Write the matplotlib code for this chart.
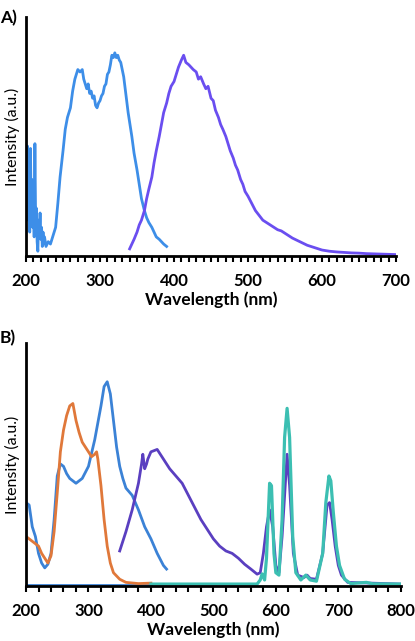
import numpy as np
import matplotlib
matplotlib.use("Agg")
import matplotlib.pyplot as plt
from matplotlib.ticker import MultipleLocator

plt.rcParams["font.family"] = ["Lato", "DejaVu Sans"]

# ---- panel A: excitation (blue) and emission (purple) ----
a_blue_nm = [200, 201, 202, 203, 204, 205, 206, 207, 208, 209, 210, 211, 212, 213, 214, 215,
             216, 217, 218, 219, 220, 221, 222, 223, 224, 225, 227, 230, 233, 236, 240, 243,
             246, 250, 253, 256, 260, 263, 266, 270, 273, 276, 278, 280, 282, 284, 286, 288,
             290, 292, 294, 296, 298, 300, 302, 304, 306, 308, 310, 312, 314, 316, 318, 320,
             322, 324, 326, 328, 330, 332, 334, 336, 338, 340, 343, 346, 350, 353, 356, 360,
             363, 366, 370, 373, 376, 380, 383, 386, 390]
a_blue_int = [0.40, 0.22, 0.46, 0.15, 0.38, 0.10, 0.45, 0.18, 0.32, 0.12, 0.25, 0.08, 0.47, 0.14,
              0.20, 0.06, 0.02, 0.15, 0.09, 0.18, 0.07, 0.12, 0.04, 0.10, 0.05, 0.08, 0.04, 0.06,
              0.05, 0.08, 0.12, 0.22, 0.33, 0.44, 0.53, 0.58, 0.62, 0.69, 0.74, 0.78, 0.77, 0.78,
              0.74, 0.72, 0.70, 0.72, 0.68, 0.69, 0.66, 0.67, 0.63, 0.62, 0.64, 0.65, 0.67, 0.68,
              0.71, 0.72, 0.76, 0.77, 0.80, 0.84, 0.83, 0.85, 0.83, 0.84, 0.82, 0.81, 0.78, 0.75,
              0.70, 0.65, 0.60, 0.56, 0.50, 0.43, 0.36, 0.30, 0.24, 0.19, 0.16, 0.14, 0.12, 0.10,
              0.08, 0.07, 0.06, 0.05, 0.04]

a_purple_nm = [340, 343, 346, 350, 353, 356, 360, 363, 366, 370, 373, 376, 380, 383, 386, 390,
               393, 396, 400, 403, 406, 410, 413, 416, 420, 423, 426, 430, 433, 436, 440, 443,
               446, 450, 453, 456, 460, 463, 466, 470, 473, 476, 480, 483, 486, 490, 493, 496,
               500, 505, 510, 515, 520, 525, 530, 535, 540, 545, 550, 560, 570, 580, 590, 600,
               610, 620, 630, 640, 650, 660, 670, 680, 690, 700]
a_purple_int = [0.03, 0.05, 0.07, 0.10, 0.13, 0.15, 0.19, 0.24, 0.28, 0.33, 0.39, 0.44, 0.50,
                0.55, 0.60, 0.64, 0.68, 0.71, 0.73, 0.76, 0.79, 0.82, 0.84, 0.81, 0.80, 0.79,
                0.78, 0.77, 0.74, 0.75, 0.72, 0.70, 0.71, 0.66, 0.65, 0.61, 0.58, 0.55, 0.53,
                0.50, 0.47, 0.44, 0.41, 0.38, 0.36, 0.32, 0.30, 0.27, 0.25, 0.22, 0.19, 0.17,
                0.15, 0.14, 0.13, 0.12, 0.11, 0.105, 0.095, 0.075, 0.06, 0.045, 0.035, 0.025,
                0.02, 0.017, 0.015, 0.013, 0.012, 0.01, 0.009, 0.008, 0.007, 0.006]

# ---- panel B ----
b_blue_nm = [200, 205, 210, 215, 220, 225, 230, 235, 240, 245, 250, 255, 260, 265, 270, 280,
             290, 300, 310, 320, 325, 330, 335, 340, 345, 350, 355, 360, 370, 380, 390, 400,
             410, 420, 425]
b_blue_int = [0.34, 0.33, 0.24, 0.20, 0.13, 0.09, 0.07, 0.085, 0.13, 0.27, 0.45, 0.50, 0.49,
              0.46, 0.44, 0.42, 0.44, 0.49, 0.60, 0.74, 0.82, 0.84, 0.79, 0.68, 0.57, 0.49,
              0.44, 0.40, 0.37, 0.31, 0.24, 0.19, 0.13, 0.08, 0.065]
b_base_nm = [200, 400]
b_base_int = [0.0, 0.0]

b_orange_nm = [200, 205, 210, 215, 220, 225, 230, 235, 240, 245, 250, 255, 260, 265, 270, 275,
               280, 285, 290, 295, 300, 305, 310, 313, 315, 320, 325, 330, 335, 340, 350, 360,
               380, 400]
b_orange_int = [0.20, 0.19, 0.18, 0.17, 0.16, 0.13, 0.11, 0.09, 0.12, 0.22, 0.38, 0.55, 0.64,
                0.70, 0.74, 0.75, 0.68, 0.63, 0.59, 0.57, 0.55, 0.53, 0.54, 0.55, 0.52, 0.41,
                0.27, 0.16, 0.09, 0.05, 0.023, 0.01, 0.005, 0.007]

b_purple_nm = [350, 360, 370, 380, 385, 387, 390, 393, 395, 400, 410, 420, 430, 440, 450, 460,
               470, 480, 490, 500, 510, 520, 530, 540, 550, 560, 570, 575, 580, 585, 590, 595,
               600, 605, 610, 615, 618, 622, 628, 635, 645, 650, 655, 665, 675, 682, 686, 690,
               695, 700, 705, 715, 800]
b_purple_int = [0.14, 0.22, 0.31, 0.42, 0.50, 0.54, 0.48, 0.50, 0.52, 0.55, 0.56, 0.52, 0.48,
                0.45, 0.42, 0.37, 0.32, 0.27, 0.23, 0.19, 0.16, 0.14, 0.13, 0.11, 0.085, 0.065,
                0.044, 0.05, 0.13, 0.24, 0.31, 0.24, 0.08, 0.05, 0.20, 0.41, 0.54, 0.41, 0.13,
                0.04, 0.03, 0.04, 0.026, 0.023, 0.13, 0.33, 0.34, 0.27, 0.16, 0.08, 0.04, 0.01,
                0.003]

b_teal_nm = [400, 570, 575, 578, 582, 585, 590, 593, 597, 600, 605, 610, 614, 618, 622, 627,
             632, 640, 648, 655, 665, 675, 680, 685, 688, 692, 697, 702, 710, 720, 745, 755, 800]
b_teal_int = [0.003, 0.003, 0.02, 0.045, 0.02, 0.11, 0.42, 0.41, 0.13, 0.05, 0.04, 0.27, 0.61,
              0.73, 0.61, 0.20, 0.05, 0.02, 0.04, 0.02, 0.015, 0.13, 0.34, 0.45, 0.43, 0.30,
              0.16, 0.08, 0.023, 0.005, 0.01, 0.004, 0.003]


def style_axes(ax, xmin, xmax, minor):
    ax.set_xlim(xmin, xmax)
    ax.set_ylim(0, 1)
    for s in ["top", "right"]:
        ax.spines[s].set_visible(False)
    ax.spines["left"].set_linewidth(2)
    ax.spines["bottom"].set_linewidth(2)
    ax.set_yticks([])
    ax.xaxis.set_major_locator(MultipleLocator(100))
    ax.xaxis.set_minor_locator(MultipleLocator(minor))
    ax.tick_params(axis="x", which="both", direction="out", length=4, width=1.5, pad=8)
    for lab in ax.get_xticklabels():
        lab.set_fontweight("bold")
        lab.set_fontsize(12)
    ax.set_xlabel("Wavelength (nm)", fontsize=12.5, fontweight="bold", labelpad=2)
    ax.set_ylabel("Intensity (a.u.)", fontsize=11.5, labelpad=4)


fig = plt.figure(figsize=(4.15, 6.41), dpi=100)

ax1 = fig.add_axes([0.0627, 0.6006, 0.8916, 0.3729])
ax1.plot(a_blue_nm, a_blue_int, color="#3d8ee8", lw=2)
ax1.plot(a_purple_nm, a_purple_int, color="#6a4ef0", lw=2)
style_axes(ax1, 200, 700, 10)
fig.text(0.0, 0.985, "A)", fontsize=12.5, fontweight="bold", va="top")

ax2 = fig.add_axes([0.0627, 0.0858, 0.903, 0.379])
ax2.plot(b_base_nm, b_base_int, color="#3b82d6", lw=2)
ax2.plot(b_blue_nm, b_blue_int, color="#3b82d6", lw=2)
ax2.plot(b_orange_nm, b_orange_int, color="#e0783a", lw=2)
ax2.plot(b_purple_nm, b_purple_int, color="#5a3fc0", lw=2)
ax2.plot(b_teal_nm, b_teal_int, color="#3cbfb2", lw=2.3)
style_axes(ax2, 200, 800, 20)
ax2.set_ylim(-0.005, 1)
fig.text(0.0, 0.485, "B)", fontsize=12.5, fontweight="bold", va="top")

fig.savefig("out.png", dpi=100)
